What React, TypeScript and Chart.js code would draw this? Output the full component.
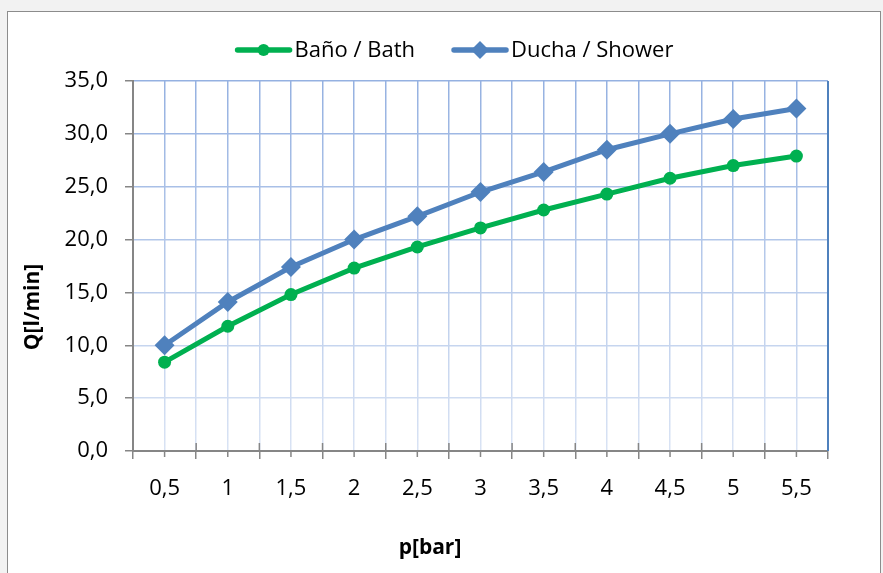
import React, { useEffect, useRef } from 'react';
import { Chart, registerables } from 'chart.js';

Chart.register(...registerables);

const xLabels = ['0,5', '1', '1,5', '2', '2,5', '3', '3,5', '4', '4,5', '5', '5,5'];
const bathValues = [8.4, 11.8, 14.8, 17.3, 19.3, 21.1, 22.8, 24.3, 25.8, 27.0, 27.9];
const showerValues = [10.0, 14.1, 17.4, 20.0, 22.2, 24.5, 26.4, 28.5, 30.0, 31.4, 32.4];
const seriesNames = ['Baño / Bath', 'Ducha / Shower'];
const seriesColors = ['#00b050', '#4f81bd'];
const yMin = 0;
const yMax = 35;
const yStep = 5;
const xTitle = 'p[bar]';
const yTitle = 'Q[l/min]';

const FONT = '"Open Sans", "DejaVu Sans", sans-serif';
const AXIS_GRAY = '#868686';

let gradCache: { key: string; g: CanvasGradient } | null = null;
function gridColor(context: any) {
  const chart = context.chart;
  const area = chart.chartArea;
  if (!area) return '#c5d4ee';
  const key = `${area.top}-${area.bottom}`;
  if (!gradCache || gradCache.key !== key) {
    const g = chart.ctx.createLinearGradient(0, area.top, 0, area.bottom);
    g.addColorStop(0, '#95b1e1');
    g.addColorStop(1, '#d9e3f4');
    gradCache = { key, g };
  }
  return gradCache.g;
}

const decorPlugin = {
  id: 'decor',
  beforeDraw(chart: any) {
    const ctx = chart.ctx;
    ctx.save();
    ctx.fillStyle = '#f2f2f2';
    ctx.fillRect(0, 0, chart.width, chart.height);
    ctx.fillStyle = '#ffffff';
    ctx.fillRect(7.5, 11.5, 873, 580);
    ctx.strokeStyle = '#8c8c8c';
    ctx.lineWidth = 1;
    ctx.strokeRect(7.5, 11.5, 873, 580);
    ctx.restore();
  },
  afterDraw(chart: any) {
    const ctx = chart.ctx;
    const { right, top, bottom } = chart.chartArea;
    const xs = chart.scales.x;
    ctx.save();
    // right border of plot area
    ctx.strokeStyle = '#4f81bd';
    ctx.lineWidth = 2;
    ctx.beginPath();
    ctx.moveTo(right, top);
    ctx.lineTo(right, bottom);
    ctx.stroke();

    // extra tick marks
    ctx.strokeStyle = AXIS_GRAY;
    ctx.lineWidth = 1.5;
    const half = (xs.getPixelForValue(1) - xs.getPixelForValue(0)) / 2;
    for (let i = 0; i < xLabels.length; i++) {
      const cx = xs.getPixelForValue(i);
      ctx.beginPath();
      ctx.moveTo(cx, bottom);
      ctx.lineTo(cx, bottom + 6);
      ctx.stroke();
      if (i > 0) {
        const bx = cx - half;
        ctx.beginPath();
        ctx.moveTo(bx, bottom - 8);
        ctx.lineTo(bx, bottom);
        ctx.stroke();
      }
    }

    // axis titles
    ctx.fillStyle = '#000';
    ctx.font = `bold 21px ${FONT}`;
    ctx.textAlign = 'center';
    ctx.textBaseline = 'middle';
    ctx.fillText(xTitle, 430, 548);
    ctx.save();
    ctx.translate(33, 307);
    ctx.rotate(-Math.PI / 2);
    ctx.fillText(yTitle, 0, 0);
    ctx.restore();

    // legend
    ctx.font = `22px ${FONT}`;
    const lineLen = 58;
    const gap = 2;
    const spacing = 36;
    const widths = seriesNames.map((n) => lineLen + gap + ctx.measureText(n).width);
    const total = widths.reduce((a, b) => a + b, 0) + spacing * (widths.length - 1);
    let x = 454 - total / 2;
    const y = 50;
    chart.data.datasets.forEach((ds: any, i: number) => {
      ctx.strokeStyle = ds.borderColor;
      ctx.fillStyle = ds.borderColor;
      ctx.lineWidth = 5.5;
      ctx.lineCap = 'round';
      ctx.beginPath();
      ctx.moveTo(x + 3, y);
      ctx.lineTo(x + lineLen - 3, y);
      ctx.stroke();
      const mx = x + lineLen / 2;
      ctx.beginPath();
      if (ds.pointStyle === 'rectRot') {
        const r = 9;
        ctx.moveTo(mx, y - r);
        ctx.lineTo(mx + r, y);
        ctx.lineTo(mx, y + r);
        ctx.lineTo(mx - r, y);
        ctx.closePath();
      } else {
        ctx.arc(mx, y, 6, 0, Math.PI * 2);
      }
      ctx.fill();
      ctx.fillStyle = '#000';
      ctx.textAlign = 'left';
      ctx.textBaseline = 'middle';
      ctx.fillText(seriesNames[i], x + lineLen + gap, y + 1);
      x += widths[i] + spacing;
    });
    ctx.restore();
  },
};

export default function App() {
  const canvasRef = useRef<HTMLCanvasElement | null>(null);

  useEffect(() => {
    document.body.style.margin = '0';
    const canvas = canvasRef.current;
    if (!canvas) return;
    const chart = new Chart(canvas, {
      type: 'line',
      data: {
        labels: xLabels,
        datasets: [
          {
            label: seriesNames[0],
            data: bathValues,
            borderColor: seriesColors[0],
            backgroundColor: seriesColors[0],
            borderWidth: 5,
            pointStyle: 'circle',
            pointRadius: 6.5,
            pointBorderWidth: 0,
            tension: 0,
          },
          {
            label: seriesNames[1],
            data: showerValues,
            borderColor: seriesColors[1],
            backgroundColor: seriesColors[1],
            borderWidth: 5,
            pointStyle: 'rectRot',
            pointRadius: 10,
            pointBorderWidth: 0,
            tension: 0,
          },
        ],
      },
      options: {
        responsive: false,
        animation: false,
        layout: { padding: { left: 8, right: 55, top: 81, bottom: 0 } },
        plugins: {
          legend: { display: false },
          title: { display: false },
          tooltip: { enabled: false },
        },
        scales: {
          x: {
            type: 'category',
            position: 'bottom',
            offset: true,
            grid: {
              offset: true,
              color: gridColor,
              lineWidth: 1.5,
              tickColor: AXIS_GRAY,
              tickLength: 8,
              tickWidth: 1.5,
            },
            border: { display: true, color: AXIS_GRAY, width: 2 },
            ticks: {
              color: '#000',
              font: { family: FONT, size: 22 },
              padding: 17,
              maxRotation: 0,
              autoSkip: false,
            },
            afterFit(scale: any) {
              scale.height = 122;
            },
          },
          xc: {
            type: 'category',
            position: 'top',
            labels: xLabels,
            offset: true,
            grid: {
              offset: false,
              color: gridColor,
              lineWidth: 1.5,
              drawTicks: false,
            },
            border: { display: false },
            ticks: { display: false },
            afterFit(scale: any) {
              scale.height = 0;
            },
          },
          y: {
            min: yMin,
            max: yMax,
            grid: {
              color: gridColor,
              lineWidth: 1.5,
              tickColor: AXIS_GRAY,
              tickLength: 8,
              tickWidth: 1.5,
            },
            border: { display: true, color: AXIS_GRAY, width: 2 },
            ticks: {
              stepSize: yStep,
              color: '#000',
              font: { family: FONT, size: 22 },
              padding: 17,
              callback: (v: any) => Number(v).toFixed(1).replace('.', ','),
            },
            afterFit(scale: any) {
              scale.width = 125;
            },
          },
        },
      },
      plugins: [decorPlugin],
    });
    return () => chart.destroy();
  }, []);

  return (
    <div style={{ width: 883, height: 573 }}>
      <canvas ref={canvasRef} width={883} height={573} style={{ display: 'block' }} />
    </div>
  );
}
